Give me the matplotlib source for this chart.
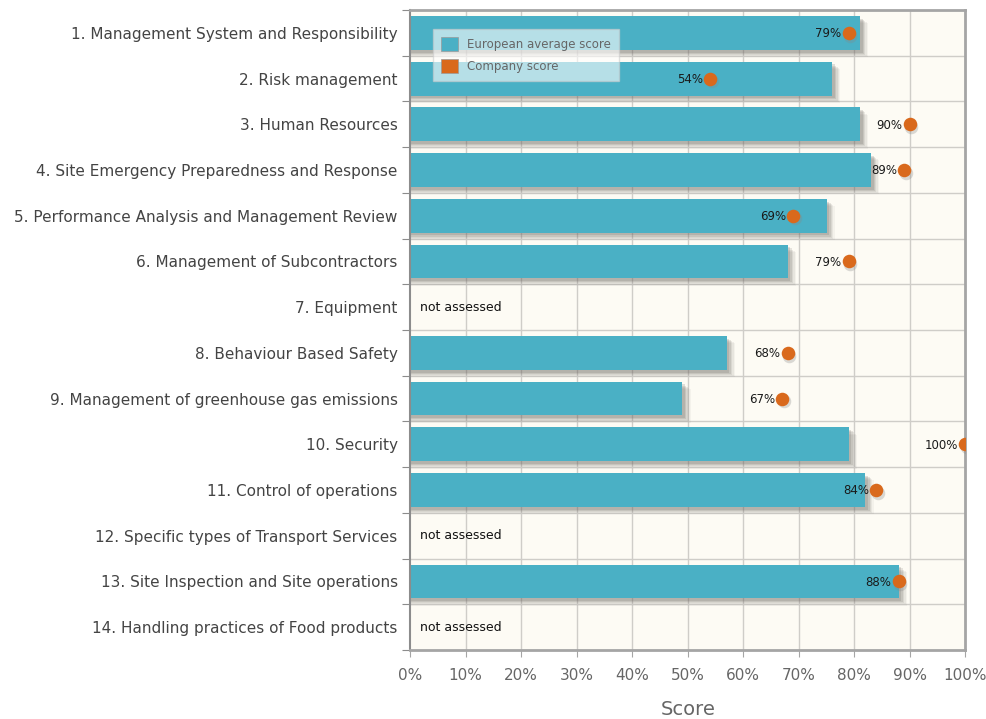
import numpy as np
import matplotlib.pyplot as plt
from matplotlib.patches import Patch, Rectangle

categories = [
    "1. Management System and Responsibility",
    "2. Risk management",
    "3. Human Resources",
    "4. Site Emergency Preparedness and Response",
    "5. Performance Analysis and Management Review",
    "6. Management of Subcontractors",
    "7. Equipment",
    "8. Behaviour Based Safety",
    "9. Management of greenhouse gas emissions",
    "10. Security",
    "11. Control of operations",
    "12. Specific types of Transport Services",
    "13. Site Inspection and Site operations",
    "14. Handling practices of Food products",
]
european_avg = [81, 76, 81, 83, 75, 68, None, 57, 49, 79, 82, None, 88, None]
company = [79, 54, 90, 89, 69, 79, None, 68, 67, 100, 84, None, 88, None]
x_ticks = [0, 10, 20, 30, 40, 50, 60, 70, 80, 90, 100]

bar_col = "#4ab0c5"
dot_col = "#d9691c"

fig = plt.figure(figsize=(9.86, 7.19), dpi=100)
ax = fig.add_axes([0.416, 0.096, 0.563, 0.89])
ax.set_facecolor("#fdfbf4")

n = len(categories)
y = np.arange(n)
h = 0.74

ax.set_xlim(0, 100)
ax.set_ylim(n - 0.5, -0.5)

# grid
for xv in x_ticks[1:-1]:
    ax.axvline(xv, color="#cfcdc8", lw=1, zorder=0)
for b in np.arange(0.5, n - 0.5, 1):
    ax.axhline(b, color="#cfcdc8", lw=1, zorder=0)

# bars with soft shadow (stacked translucent rects)
for i, v in enumerate(european_avg):
    if v is None:
        ax.text(1.7, i, "not assessed", va="center", ha="left", fontsize=9,
                color="#111111")
        continue
    for k, a in enumerate([0.06, 0.09, 0.12, 0.16, 0.2]):
        off = 1.5 - k * 0.25
        dy = 0.16 - k * 0.025
        ax.add_patch(Rectangle((0, i - h / 2 + dy), v + off, h,
                               color="#6e6a64", alpha=a, lw=0, zorder=1))
    ax.barh(i, v, height=h, color=bar_col, zorder=2)

# company dots + labels
for i, c in enumerate(company):
    if c is None:
        continue
    ax.scatter(c + 0.3, i + 0.06, s=95, color="#888888", alpha=0.3, lw=0, zorder=3)
    ax.scatter(c, i, s=95, color=dot_col, lw=0, zorder=4)
    ax.text(c - 1.3, i + 0.02, f"{c}%", va="center", ha="right", fontsize=8.5,
            color="#1a1a1a", zorder=5)

# axes frame
for s in ax.spines.values():
    s.set_color("#a5a5a5")
    s.set_linewidth(2)
ax.spines["left"].set_color("#8c8c8c")
ax.spines["left"].set_linewidth(1.5)

ax.set_xticks(x_ticks)
ax.set_xticklabels([f"{t}%" for t in x_ticks], fontsize=11, color="#666666")
ax.tick_params(axis="x", length=5, color="#a5a5a5", pad=8)

ax.set_yticks(np.arange(-0.5, n + 0.5, 1))
ax.set_yticklabels([])
ax.tick_params(axis="y", length=6, color="#8c8c8c")
ax.set_yticks(y, minor=True)
ax.set_yticklabels(categories, minor=True, fontsize=11, color="#444444")
ax.tick_params(axis="y", which="minor", length=0, pad=9)

ax.set_xlabel("Score", fontsize=14, color="#666666", labelpad=12)

handles = [Patch(facecolor=bar_col, edgecolor="#9a9a9a", lw=0.5),
           Patch(facecolor=dot_col, edgecolor="#9a9a9a", lw=0.5)]
leg = ax.legend(handles, ["European average score", "Company score"],
                loc="upper left", bbox_to_anchor=(0.03, 0.98), fontsize=8.5,
                labelcolor="#666666", frameon=True, fancybox=False,
                handlelength=1.4, handleheight=1.4, borderpad=0.7,
                labelspacing=0.7, handletextpad=0.8)
leg.get_frame().set_facecolor("#ffffff")
leg.get_frame().set_alpha(0.6)
leg.get_frame().set_edgecolor("#cccccc")
leg.set_zorder(6)

fig.savefig("out.png", dpi=100)
